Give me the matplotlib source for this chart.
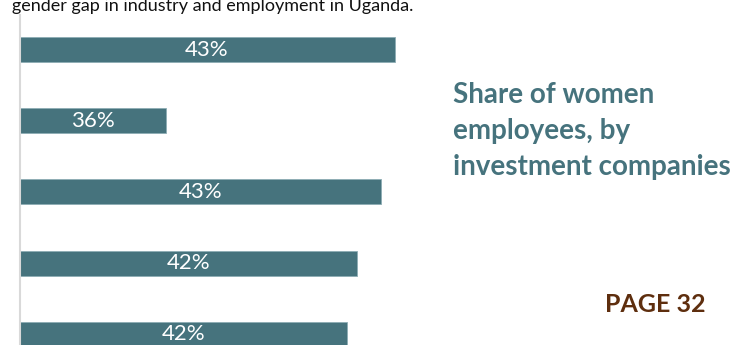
import matplotlib
matplotlib.use("Agg")
import matplotlib.pyplot as plt
import numpy as np

# Share of women employees per investment company (in %)
shares = [43.4, 36.45, 43.0, 42.25, 41.95]
bar_labels = [f"{v:.0f}%" for v in shares]

heading = "gender gap in industry and employment in Uganda."
panel_title = ["Share of women", "employees, by", "investment companies"]
page_label = "PAGE 32"

BAR = "#46737D"
TITLE = "#46737D"
BROWN = "#5E2E0E"

W, H = 744, 345
fig = plt.figure(figsize=(W / 100, H / 100), dpi=100)
fig.patch.set_facecolor("white")

def fx(px):
    return px / W

def fy(py):
    return 1 - py / H

# Bar panel: top edge at 15 px, runs off the bottom of the figure
ax = fig.add_axes([fx(19.5), 0, fx(420), 330 / H])
ypos = np.arange(len(shares))
ax.barh(ypos, [v - 32 for v in shares], left=32, height=0.351,
        color=BAR, edgecolor="#8DADB4", linewidth=0.6)
for y, v, lab in zip(ypos, shares, bar_labels):
    ax.text((32 + v) / 2, y, lab, ha="center", va="center",
            color="white", fontsize=16, family="Lato", clip_on=True)

ax.set_xlim(32, 32 + 420 / 32.9)
ax.set_ylim(4.150, -0.4846)
ax.set_xticks([])
ax.set_yticks([])
for s in ("top", "right", "bottom"):
    ax.spines[s].set_visible(False)
ax.spines["left"].set_color("#D9D9D9")
ax.spines["left"].set_linewidth(1.5)
ax.patch.set_alpha(0)

# Running text line above the chart
fig.text(fx(12), fy(11), heading, ha="left", va="baseline",
         fontsize=13, family="Lato", color="#111111")

# Panel title
for i, line in enumerate(panel_title):
    fig.text(fx(453), fy(103 + 36 * i), line, ha="left", va="baseline",
             fontsize=20, family="Lato", weight="bold", color=TITLE)

fig.text(fx(605), fy(312), page_label, ha="left", va="baseline",
         fontsize=18, family="Lato", weight="bold", color=BROWN)

fig.savefig("out.png", dpi=100)
